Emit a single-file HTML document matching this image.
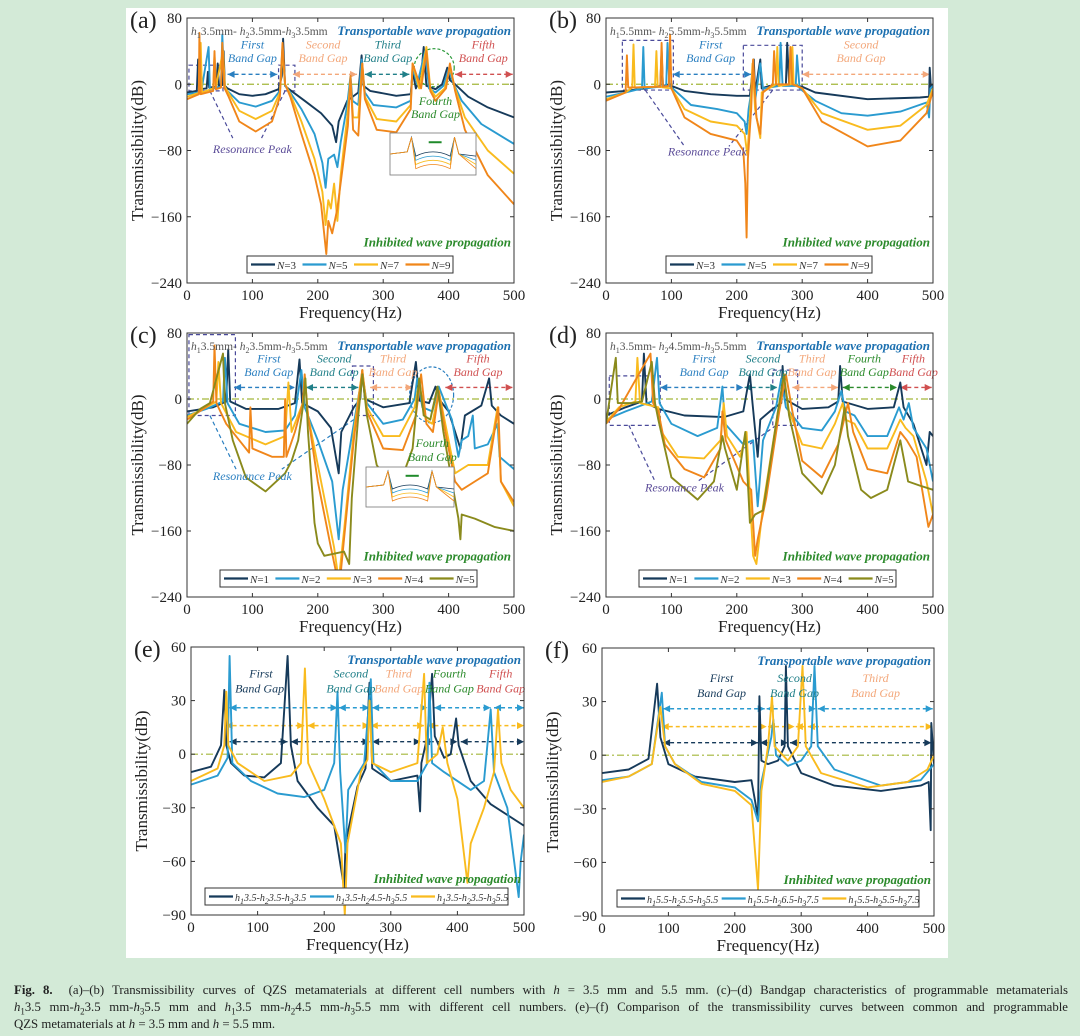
<!DOCTYPE html>
<html><head><meta charset="utf-8">
<style>
html,body{margin:0;padding:0;}
body{width:1080px;height:1036px;background:#d3ead7;position:relative;overflow:hidden;font-family:"Liberation Serif",serif;}
#fig{position:absolute;left:126px;top:8px;width:822px;height:950px;background:#fff;}
svg{position:absolute;left:0;top:0;}
.cap{position:absolute;left:14px;width:1054px;font-size:12.8px;color:#222;line-height:17px;}
.cap div{text-align:justify;text-align-last:justify;white-space:nowrap;}
.cap div.last{text-align-last:left;}
.cap sub{line-height:0;font-size:9px;}
</style></head>
<body>
<div id="fig"></div>
<svg id="chart" width="1080" height="960"></svg>
<div class="cap" style="top:982px">
<div><b>Fig. 8.</b> &nbsp;(a)–(b) Transmissibility curves of QZS metamaterials at different cell numbers with <i>h</i> = 3.5 mm and 5.5 mm. (c)–(d) Bandgap characteristics of programmable metamaterials</div>
<div><i>h</i><sub>1</sub>3.5 mm-<i>h</i><sub>2</sub>3.5 mm-<i>h</i><sub>3</sub>5.5 mm and <i>h</i><sub>1</sub>3.5 mm-<i>h</i><sub>2</sub>4.5 mm-<i>h</i><sub>3</sub>5.5 mm with different cell numbers. (e)–(f) Comparison of the transmissibility curves between common and programmable</div>
<div class="last">QZS metamaterials at <i>h</i> = 3.5 mm and <i>h</i> = 5.5 mm.</div>
</div>
<script>
// ---- data (frequency Hz, dB) ----
const xTicks=[0,100,200,300,400,500];
const yTicksAD=[80,0,-80,-160,-240];
const yTicksEF=[60,30,0,-30,-60,-90];
const a3=[[0,-10],[15,-8],[17,30],[19,-6],[30,-5],[32,15],[34,-4],[45,-3],[47,25],[49,-2],[54,-1],[56,40],[58,-2],[62,-5],[80,-12],[100,-14],[120,-12],[140,-6],[145,10],[147,55],[150,-2],[156,-6],[180,-20],[205,-35],[222,-50],[228,-70],[232,-45],[245,-20],[262,-10],[267,35],[270,-2],[280,-8],[320,-14],[342,-12],[345,15],[350,-5],[358,10],[362,45],[366,-2],[380,-6],[390,0],[398,20],[402,5],[410,0],[430,-15],[460,-28],[500,-40]];
const a5=[[0,-12],[18,-10],[20,35],[22,-8],[33,45],[35,-6],[52,-3],[54,60],[57,-2],[62,-8],[80,-22],[105,-27],[130,-20],[142,-8],[146,45],[150,-2],[158,-10],[175,-30],[195,-60],[207,-95],[212,-125],[216,-90],[225,-85],[230,-100],[235,-70],[245,-25],[250,10],[253,-20],[262,-25],[267,30],[272,-10],[285,-25],[320,-28],[342,-20],[345,20],[352,0],[364,40],[370,-5],[380,-10],[392,-2],[400,18],[408,0],[420,-20],[450,-48],[500,-72]];
const a7=[[0,-15],[20,-10],[21,50],[23,-10],[40,-5],[42,35],[44,-4],[55,40],[58,-3],[63,-10],[80,-32],[105,-42],[130,-32],[142,-10],[146,40],[150,0],[158,-12],[175,-45],[195,-90],[207,-130],[212,-170],[216,-140],[220,-150],[225,-120],[230,-165],[235,-110],[245,-40],[250,5],[254,-40],[262,-40],[268,25],[272,-15],[290,-42],[320,-45],[342,-25],[345,25],[355,-5],[366,45],[372,-5],[380,-15],[394,-5],[402,20],[410,-5],[425,-40],[460,-80],[500,-108]];
const a9=[[0,-18],[18,-12],[19,62],[21,-12],[40,-8],[42,40],[44,-6],[52,-4],[54,50],[57,-4],[63,-14],[80,-45],[105,-57],[130,-45],[142,-15],[146,50],[150,0],[158,-15],[175,-60],[195,-110],[205,-145],[211,-190],[213,-205],[216,-165],[222,-180],[230,-150],[238,-100],[246,-50],[250,10],[254,-55],[262,-62],[268,25],[272,-18],[290,-55],[320,-58],[342,-30],[345,25],[358,-5],[366,40],[372,-8],[380,-20],[396,-5],[402,25],[410,-8],[425,-55],[460,-110],[500,-145]];
const b3=[[0,-10],[30,-8],[60,-5],[83,-2],[85,40],[87,-2],[98,0],[100,-2],[120,-8],[160,-12],[200,-14],[220,-14],[226,30],[228,-10],[236,30],[238,-5],[250,-2],[275,0],[277,50],[280,0],[300,-3],[320,-10],[400,-18],[480,-16],[494,-15],[495,20],[497,-5],[500,0]];
const b5=[[0,-15],[30,-10],[55,-5],[57,45],[59,-5],[92,-2],[94,50],[97,-2],[102,-5],[130,-25],[170,-30],[200,-35],[212,-45],[215,-60],[218,-30],[222,-10],[225,28],[228,-20],[236,25],[240,-5],[265,-2],[267,50],[270,-2],[290,-2],[292,35],[296,-5],[320,-20],[360,-35],[400,-38],[450,-33],[490,-22],[494,-40],[496,-5],[500,-2]];
const b7=[[0,-18],[30,-10],[40,-4],[42,48],[44,-4],[75,-3],[77,40],[79,-3],[100,-5],[120,-30],[160,-45],[200,-50],[212,-60],[216,-85],[220,-40],[224,25],[228,-30],[236,-65],[238,-10],[260,0],[262,45],[264,-2],[283,0],[285,45],[287,0],[300,-5],[330,-35],[400,-55],[450,-50],[490,-25],[500,-5]];
const b9=[[0,-20],[30,-10],[32,35],[34,-4],[83,-3],[85,50],[87,-3],[96,-2],[98,60],[100,-5],[120,-40],[160,-60],[200,-68],[210,-80],[213,-120],[215,-185],[217,-90],[222,-30],[225,30],[230,-40],[236,-60],[240,-10],[255,0],[257,40],[260,0],[280,0],[282,45],[285,0],[300,-5],[330,-45],[400,-75],[450,-68],[490,-35],[500,-8]];
const c1=[[0,-15],[40,-10],[60,-3],[63,60],[66,-3],[90,-12],[140,-12],[165,-5],[172,48],[176,-5],[200,-15],[220,-35],[232,-90],[236,-40],[255,-10],[265,0],[268,35],[272,0],[300,-10],[340,-5],[350,45],[355,-2],[370,-5],[380,15],[385,0],[400,-15],[418,-60],[425,-20],[450,-8],[462,25],[466,-8],[480,-20],[500,-30]];
const c2=[[0,-20],[30,-12],[55,-3],[58,50],[62,-5],[80,-30],[120,-40],[150,-38],[165,-20],[175,35],[180,-10],[200,-50],[222,-100],[232,-170],[238,-110],[255,-30],[268,30],[275,-5],[300,-30],[330,-25],[348,0],[352,25],[360,-10],[375,-15],[385,15],[395,-5],[405,-25],[415,-70],[420,-50],[430,-45],[437,-20],[440,-60],[460,-55],[475,-30],[478,-70],[500,-85]];
const c3=[[0,-22],[25,-12],[45,-3],[48,45],[52,-5],[75,-40],[120,-55],[150,-45],[155,20],[160,-40],[177,-5],[180,25],[185,-20],[200,-80],[215,-140],[225,-180],[232,-220],[240,-160],[255,-40],[268,35],[275,-10],[300,-45],[325,-45],[348,-10],[355,20],[365,-25],[375,-30],[385,10],[395,-30],[410,-90],[430,-80],[460,-80],[475,-10],[480,-100],[500,-130]];
const c4=[[0,-25],[25,-12],[40,-3],[42,65],[45,-5],[60,-30],[80,-50],[95,-65],[97,-10],[100,-60],[130,-70],[148,-70],[150,0],[152,-70],[165,-40],[177,-5],[180,30],[185,-20],[200,-100],[220,-180],[228,-210],[234,-220],[240,-170],[255,-50],[268,35],[275,-15],[300,-60],[330,-62],[350,-20],[358,30],[366,-30],[376,-40],[385,10],[395,-40],[410,-100],[420,-110],[440,-100],[460,-90],[476,-10],[480,-100],[500,-125]];
const c5=[[0,-30],[20,-12],[35,-5],[55,55],[58,-5],[70,-50],[90,-95],[120,-112],[150,-90],[160,-75],[170,-50],[178,-5],[181,25],[185,-40],[195,-150],[200,-175],[210,-190],[240,-185],[248,-200],[252,-120],[262,-20],[268,30],[275,-20],[290,-80],[320,-115],[345,-60],[355,25],[362,-20],[372,-25],[383,15],[392,-40],[405,-100],[415,-145],[418,-170],[420,-140],[440,-145],[470,-155],[500,-160]];
const d1=[[0,-20],[30,-10],[55,-3],[58,55],[62,-5],[80,-12],[120,-20],[180,-22],[210,-15],[220,30],[224,-5],[232,-70],[236,-25],[255,-12],[268,-5],[270,40],[273,0],[300,-12],[340,-10],[355,-3],[358,40],[362,-3],[400,-12],[440,-10],[450,20],[455,-10],[470,-30],[490,-80],[495,-40],[500,-45]];
const d2=[[0,-25],[30,-15],[70,-3],[78,50],[82,-5],[100,-30],[140,-45],[170,-35],[178,15],[182,-30],[210,-55],[225,-50],[232,-130],[240,-50],[260,-10],[268,25],[275,-10],[300,-35],[330,-38],[350,-15],[360,10],[366,-15],[380,-20],[400,-45],[430,-45],[448,-10],[455,-25],[463,-5],[470,-35],[490,-60],[500,-100]];
const d3=[[0,-28],[20,-10],[45,-3],[48,50],[52,-5],[80,-10],[85,-40],[110,-70],[150,-72],[175,-50],[180,-5],[185,-45],[205,-70],[215,-40],[220,-120],[225,-190],[230,-200],[240,-130],[262,-20],[272,25],[280,-15],[300,-55],[330,-60],[350,-30],[362,-5],[366,-25],[380,-30],[400,-60],[430,-60],[450,-25],[458,-35],[470,-45],[490,-100],[500,-140]];
const d4=[[0,-30],[20,-12],[68,55],[72,-5],[80,-15],[90,-55],[120,-85],[150,-95],[175,-60],[178,-15],[183,-50],[210,-100],[222,-110],[228,-190],[232,-170],[245,-120],[265,-15],[275,30],[285,-15],[300,-75],[330,-95],[355,-55],[370,-5],[378,-40],[400,-85],[430,-90],[450,-40],[460,-50],[475,-70],[493,-155],[500,-140]];
const d5=[[0,-30],[15,50],[18,-5],[40,-5],[55,-3],[70,45],[75,-5],[80,-25],[100,-95],[140,-122],[165,-100],[178,-45],[182,-60],[200,-110],[213,-40],[220,-150],[228,-140],[240,-135],[262,-20],[272,30],[280,-20],[300,-90],[330,-115],[350,-80],[365,-10],[370,-45],[390,-110],[405,-120],[430,-110],[450,-50],[462,-100],[480,-105],[500,-110]];
const e1=[[0,-10],[30,-7],[45,5],[50,36],[53,5],[60,-5],[80,-12],[110,-13],[135,-5],[145,55],[150,5],[160,-15],[190,-30],[215,-40],[230,-75],[232,-50],[250,-18],[262,-8],[268,40],[272,-8],[300,-15],[340,-12],[344,-32],[346,-5],[355,10],[362,45],[366,10],[380,-2],[390,0],[398,20],[402,5],[420,-15],[450,-28],[500,-40]];
const e2=[[0,-17],[40,-12],[55,-2],[58,55],[62,-5],[90,-15],[130,-22],[170,-24],[200,-20],[215,-5],[220,35],[224,-10],[232,-55],[236,-20],[260,-5],[270,42],[274,-5],[300,-15],[340,-15],[355,-5],[358,40],[362,-5],[380,-10],[420,-20],[440,-15],[450,25],[455,-10],[475,-30],[492,-80],[495,-60],[500,-45]];
const e3=[[0,-15],[40,-8],[50,5],[53,35],[56,5],[70,-5],[110,-15],[150,-12],[165,-5],[171,48],[176,-5],[200,-25],[225,-50],[231,-90],[235,-50],[255,-10],[265,-3],[268,30],[272,-5],[300,-10],[340,-5],[350,45],[354,-5],[370,0],[378,15],[385,-5],[400,-25],[415,-72],[420,-50],[440,-30],[455,-10],[461,25],[466,-5],[480,-20],[500,-30]];
const f1=[[0,-10],[40,-8],[70,-2],[83,40],[88,10],[100,-5],[140,-12],[200,-15],[225,-14],[235,-35],[237,33],[240,-3],[250,-5],[265,-3],[275,5],[277,50],[280,5],[300,-10],[350,-17],[420,-20],[480,-17],[492,-15],[495,-42],[496,18],[500,-5]];
const f2=[[0,-14],[40,-12],[75,-5],[90,35],[95,5],[110,-5],[150,-15],[200,-18],[225,-25],[235,-37],[240,-15],[255,10],[258,20],[262,0],[280,-6],[300,-3],[315,5],[320,50],[325,5],[350,-8],[420,-17],[480,-14],[500,-5]];
const f3=[[0,-15],[40,-12],[75,-5],[88,27],[95,5],[110,-5],[150,-16],[200,-20],[225,-28],[235,-75],[240,-20],[250,5],[256,33],[260,5],[280,-3],[295,5],[302,50],[307,5],[330,-10],[400,-18],[460,-15],[490,-8],[500,0]];

const NAVY='#163a5a',BLUE='#2a9bd0',YEL='#f9bb1e',ORG='#f0861a',OLV='#8a8a1c';
const NS='http://www.w3.org/2000/svg';
const svg=document.getElementById('chart');
function el(tag,attrs,parent,txt){const e=document.createElementNS(NS,tag);for(const k in attrs)e.setAttribute(k,attrs[k]);if(txt!==undefined)e.textContent=txt;(parent||svg).appendChild(e);return e;}

function panel(P){
  const g=el('g',{});
  
  
  const sx=f=>P.x0+(f-0)/500*(P.x1-P.x0);
  const sy=v=>P.y1-(v-P.ymin)/(P.ymax-P.ymin)*(P.y1-P.y0);
  P.sx=sx;P.sy=sy;
  const clip=el('clipPath',{id:'clip'+P.id},g);
  el('rect',{x:P.x0,y:P.y0,width:P.x1-P.x0,height:P.y1-P.y0},clip);
  const z=el('line',{x1:P.x0,x2:P.x1,y1:sy(0),y2:sy(0),stroke:'#a3b63a','stroke-width':1.2,'stroke-dasharray':'7,3,2,3'},g);
  
  
  (P.pre||[]).forEach(fn=>fn(g,P));
  const cg=el('g',{'clip-path':'url(#clip'+P.id+')'},g);
  P.series.forEach((s,i)=>{
    const pts=s.data.map(d=>sx(d[0]).toFixed(1)+','+sy(d[1]).toFixed(1)).join(' ');
    const pl=el('polyline',{points:pts,fill:'none',stroke:s.color,'stroke-width':1.9,'stroke-linejoin':'round'},cg);
    
    
  });
  (P.post||[]).forEach(fn=>fn(g,P));
  const fr=el('rect',{x:P.x0,y:P.y0,width:P.x1-P.x0,height:P.y1-P.y0,fill:'none',stroke:'#333','stroke-width':1},g);
  
  
  xTicks.forEach(t=>{
    el('line',{x1:sx(t),x2:sx(t),y1:P.y1,y2:P.y1-4,stroke:'#333'},g);
    el('line',{x1:sx(t),x2:sx(t),y1:P.y0,y2:P.y0+4,stroke:'#333'},g);
    const tl=el('text',{x:sx(t),y:P.y1+17,'font-size':15,'text-anchor':'middle',fill:'#222'},g,String(t));
    
    
  });
  P.yt.forEach(t=>{
    el('line',{x1:P.x0,x2:P.x0+4,y1:sy(t),y2:sy(t),stroke:'#333'},g);
    el('line',{x1:P.x1,x2:P.x1-4,y1:sy(t),y2:sy(t),stroke:'#333'},g);
    const tl=el('text',{x:P.x0-5,y:sy(t)+5,'font-size':15,'text-anchor':'end',fill:'#222'},g,String(t).replace('-','\u2212'));
    
    
  });
  const xt=el('text',{x:(P.x0+P.x1)/2,y:P.y1+35,'font-size':17,'text-anchor':'middle',fill:'#222'},g,'Frequency(Hz)');
  
  
  const yx=P.x0-44, yy=(P.y0+P.y1)/2;
  const yt=el('text',{x:yx,y:yy,'font-size':17,'text-anchor':'middle',fill:'#222',transform:'rotate(-90 '+yx+' '+yy+')'},g,'Transmissibility(dB)');
  
  
  const pl=el('text',{x:P.x0-57,y:P.y0+10,'font-size':24,fill:'#222'},g,'('+P.id+')');
  
  
  const L=P.legend;
  const lg=el('g',{},g);
  
  
  el('rect',{x:L.x,y:L.y,width:L.w,height:17,fill:'#fff',stroke:'#333','stroke-width':1},lg);
  const step=L.w/P.series.length;
  P.series.forEach((s,i)=>{
    const bx=L.x+4+i*step;
    const le=el('g',{},lg);
    
    
    el('line',{x1:bx,x2:bx+L.ll,y1:L.y+8.5,y2:L.y+8.5,stroke:s.color,'stroke-width':2.2},le);
    const t=el('text',{x:bx+L.ll+2,y:L.y+13,'font-size':L.fs,fill:'#333','font-style':'italic'},le);
    t.innerHTML=s.label;
  });
  return P;
}
function txt(g,x,y,s,color,opt){opt=opt||{};const t=el('text',{x:x,y:y,'font-size':opt.fs||12,fill:color,'font-style':'italic','font-weight':opt.bold?'bold':'normal','text-anchor':opt.anchor||'middle'},g);t.innerHTML=s;return t;}
function arrow(g,P,f1,f2,db,color){const y=P.sy(db);const a=P.sx(f1),b=P.sx(f2);
  const l=el('line',{x1:a,x2:b,y1:y,y2:y,stroke:color,'stroke-width':1.4,'stroke-dasharray':'4,3'},g);
  
  el('polygon',{points:`${a},${y} ${a+7},${y-3.5} ${a+7},${y+3.5}`,fill:color},g);
  el('polygon',{points:`${b},${y} ${b-7},${y-3.5} ${b-7},${y+3.5}`,fill:color},g);}
function common(g,P,hl,inhY){
  txt(g,P.x1-3,P.y0+17,'Transportable wave propagation','#1c70b0',{bold:true,anchor:'end',fs:13,name:'transportable-label'});
  txt(g,P.x1-3,P.sy(inhY),'Inhibited wave propagation','#2b8a2b',{bold:true,anchor:'end',fs:13,name:'inhibited-label'});
  if(hl) txt(g,P.x0+4,P.y0+17,hl,'#555',{anchor:'start',fs:11.5,name:'parameter-label'});
}
const BG='Band Gap';
function nlab(n){return '<tspan font-style="italic">N</tspan><tspan font-style="normal">='+n+'</tspan>';}
function hlab(a,b,c){return `<tspan font-style="italic">h</tspan><tspan font-size="8" dy="3">1</tspan><tspan dy="-3">${a}-</tspan><tspan font-style="italic">h</tspan><tspan font-size="8" dy="3">2</tspan><tspan dy="-3">${b}-</tspan><tspan font-style="italic">h</tspan><tspan font-size="8" dy="3">3</tspan><tspan dy="-3">${c}</tspan>`;}
function hmm(a,b,c){return `<tspan font-style="italic">h</tspan><tspan font-size="8" dy="3" font-style="normal">1</tspan><tspan dy="-3" font-style="normal">${a}mm- </tspan><tspan font-style="italic">h</tspan><tspan font-size="8" dy="3" font-style="normal">2</tspan><tspan dy="-3" font-style="normal">${b}mm-</tspan><tspan font-style="italic">h</tspan><tspan font-size="8" dy="3" font-style="normal">3</tspan><tspan dy="-3" font-style="normal">${c}mm</tspan>`;}
function dbox(g,P,f1,f2,v1,v2,c){const r=el('rect',{x:P.sx(f1),y:P.sy(v2),width:P.sx(f2)-P.sx(f1),height:P.sy(v1)-P.sy(v2),fill:'none',stroke:c||'#4a4a9a','stroke-width':1.2,'stroke-dasharray':'4,3'},g);}
function dline(g,P,f1,v1,f2,v2,c){el('line',{x1:P.sx(f1),y1:P.sy(v1),x2:P.sx(f2),y2:P.sy(v2),stroke:c,'stroke-width':1.2,'stroke-dasharray':'4,3'},g);}
function inset(g,x,y,w,h){const r=el('rect',{x:x,y:y,width:w,height:h,fill:'#fff',stroke:'#777','stroke-width':0.8},g);
  [[NAVY,0.55],[BLUE,0.65],[YEL,0.75],[ORG,0.85]].forEach(([c,d])=>{el('path',{d:`M${x} ${y+h*0.5} L${x+w*0.2} ${y+h*0.45} L${x+w*0.25} ${y+h*0.1} L${x+w*0.3} ${y+h*d} Q${x+w*0.5} ${y+h*(d-0.2)} ${x+w*0.7} ${y+h*d} L${x+w*0.75} ${y+h*0.1} L${x+w*0.8} ${y+h*0.5} L${x+w} ${y+h*d}`,fill:'none',stroke:c,'stroke-width':0.8},g);});
  el('line',{x1:x+w*0.45,x2:x+w*0.6,y1:y+h*0.22,y2:y+h*0.22,stroke:'#1f8a2a','stroke-width':2},g);}

panel({id:'a',x0:187,x1:514,y0:18,y1:283,ymin:-240,ymax:80,yt:yTicksAD,
 series:[{key:'n3',data:a3,color:NAVY,label:nlab(3)},{key:'n5',data:a5,color:BLUE,label:nlab(5)},{key:'n7',data:a7,color:YEL,label:nlab(7)},{key:'n9',data:a9,color:ORG,label:nlab(9)}],
 legend:{x:247,y:256,w:206,ll:24,fs:11},
 pre:[(g,P)=>{dbox(g,P,3,55,-8,23);dbox(g,P,140,165,-8,23);dline(g,P,35,-8,70,-65,'#4a4a9a');dline(g,P,150,-8,114,-65,'#4a4a9a');
   el('ellipse',{cx:P.sx(378),cy:P.sy(20),rx:20,ry:19,fill:'none',stroke:'#2b9a3a','stroke-dasharray':'3,2','stroke-width':1.2},g);
   arrow(g,P,62,138,12,'#2a7fc0');arrow(g,P,162,260,12,'#f3a77a');arrow(g,P,272,340,12,'#207f88');arrow(g,P,410,498,12,'#d05050');}],
 post:[(g,P)=>{common(g,P,hmm('3.5','3.5','3.5'),-196);
   txt(g,P.sx(100),P.sy(43),'First','#2a7fc0');txt(g,P.sx(100),P.sy(27),BG,'#2a7fc0');
   txt(g,P.sx(208),P.sy(43),'Second','#f3a77a');txt(g,P.sx(208),P.sy(27),BG,'#f3a77a');
   txt(g,P.sx(307),P.sy(43),'Third','#207f88');txt(g,P.sx(307),P.sy(27),BG,'#207f88');
   txt(g,P.sx(453),P.sy(43),'Fifth','#d05050');txt(g,P.sx(453),P.sy(27),BG,'#d05050');
   txt(g,P.sx(380),P.sy(-25),'Fourth','#2b8a2b');txt(g,P.sx(380),P.sy(-41),BG,'#2b8a2b');
   txt(g,P.sx(100),P.sy(-83),'Resonance Peak','#5b4c98');inset(g,390,133,86,42);}]});

panel({id:'b',x0:606,x1:933,y0:18,y1:283,ymin:-240,ymax:80,yt:yTicksAD,
 series:[{key:'n3',data:b3,color:NAVY,label:nlab(3)},{key:'n5',data:b5,color:BLUE,label:nlab(5)},{key:'n7',data:b7,color:YEL,label:nlab(7)},{key:'n9',data:b9,color:ORG,label:nlab(9)}],
 legend:{x:666,y:256,w:206,ll:24,fs:11},
 pre:[(g,P)=>{dbox(g,P,25,103,-7,53);dbox(g,P,210,300,-7,47);dline(g,P,60,-7,120,-75,'#4a4a9a');dline(g,P,255,-7,188,-75,'#4a4a9a');
   arrow(g,P,102,222,12,'#2a7fc0');arrow(g,P,300,495,12,'#f3a77a');}],
 post:[(g,P)=>{common(g,P,hmm('5.5','5.5','5.5'),-196);
   txt(g,P.sx(160),P.sy(43),'First','#2a7fc0');txt(g,P.sx(160),P.sy(27),BG,'#2a7fc0');
   txt(g,P.sx(390),P.sy(43),'Second','#f3a77a');txt(g,P.sx(390),P.sy(27),BG,'#f3a77a');
   txt(g,P.sx(155),P.sy(-86),'Resonance Peak','#5b4c98');}]});

panel({id:'c',x0:187,x1:514,y0:333,y1:597,ymin:-240,ymax:80,yt:yTicksAD,
 series:[{key:'n1',data:c1,color:NAVY,label:nlab(1)},{key:'n2',data:c2,color:BLUE,label:nlab(2)},{key:'n3',data:c3,color:YEL,label:nlab(3)},{key:'n4',data:c4,color:ORG,label:nlab(4)},{key:'n5',data:c5,color:OLV,label:nlab(5)}],
 legend:{x:220,y:570,w:257,ll:24,fs:11},
 pre:[(g,P)=>{dbox(g,P,3,74,-20,78);dbox(g,P,253,285,-20,40);dline(g,P,35,-20,75,-85,'#2a7fc0');dline(g,P,255,-25,145,-85,'#2a7fc0');
   el('ellipse',{cx:P.sx(374),cy:P.sy(5),rx:22,ry:28,fill:'none',stroke:'#2a7fc0','stroke-dasharray':'3,2','stroke-width':1.2},g);
   arrow(g,P,72,165,14,'#2a7fc0');arrow(g,P,182,262,14,'#207f88');arrow(g,P,280,345,14,'#f3a77a');arrow(g,P,395,498,14,'#d05050');}],
 post:[(g,P)=>{common(g,P,hmm('3.5','3.5','5.5'),-196);
   txt(g,P.sx(125),P.sy(44),'First','#2a7fc0');txt(g,P.sx(125),P.sy(28),BG,'#2a7fc0');
   txt(g,P.sx(225),P.sy(44),'Second','#207f88');txt(g,P.sx(225),P.sy(28),BG,'#207f88');
   txt(g,P.sx(315),P.sy(44),'Third','#f3a77a');txt(g,P.sx(315),P.sy(28),BG,'#f3a77a');
   txt(g,P.sx(445),P.sy(44),'Fifth','#d05050');txt(g,P.sx(445),P.sy(28),BG,'#d05050');
   txt(g,P.sx(375),P.sy(-58),'Fourth','#2b8a2b');txt(g,P.sx(375),P.sy(-75),BG,'#2b8a2b');
   txt(g,P.sx(100),P.sy(-98),'Resonance Peak','#2a7fc0');inset(g,366,467,88,40);}]});

panel({id:'d',x0:606,x1:933,y0:333,y1:597,ymin:-240,ymax:80,yt:yTicksAD,
 series:[{key:'n1',data:d1,color:NAVY,label:nlab(1)},{key:'n2',data:d2,color:BLUE,label:nlab(2)},{key:'n3',data:d3,color:YEL,label:nlab(3)},{key:'n4',data:d4,color:ORG,label:nlab(4)},{key:'n5',data:d5,color:OLV,label:nlab(5)}],
 legend:{x:639,y:570,w:257,ll:24,fs:11},
 pre:[(g,P)=>{dbox(g,P,5,83,-32,28);dbox(g,P,255,293,-32,35);dline(g,P,35,-32,75,-100,'#4a4a9a');dline(g,P,260,-32,140,-100,'#4a4a9a');
   arrow(g,P,83,210,14,'#2a7fc0');arrow(g,P,212,262,14,'#207f88');arrow(g,P,285,355,14,'#f3a77a');arrow(g,P,362,445,14,'#2b8a2b');arrow(g,P,450,498,14,'#d05050');}],
 post:[(g,P)=>{common(g,P,hmm('3.5','4.5','5.5'),-196);
   txt(g,P.sx(150),P.sy(44),'First','#2a7fc0');txt(g,P.sx(150),P.sy(28),BG,'#2a7fc0');
   txt(g,P.sx(240),P.sy(44),'Second','#207f88');txt(g,P.sx(240),P.sy(28),BG,'#207f88');
   txt(g,P.sx(315),P.sy(44),'Third','#f3a77a');txt(g,P.sx(315),P.sy(28),BG,'#f3a77a');
   txt(g,P.sx(395),P.sy(44),'Fourth','#2b8a2b');txt(g,P.sx(395),P.sy(28),BG,'#2b8a2b');
   txt(g,P.sx(470),P.sy(44),'Fifth','#d05050');txt(g,P.sx(470),P.sy(28),BG,'#d05050');
   txt(g,P.sx(120),P.sy(-112),'Resonance Peak','#5b4c98');}]});

panel({id:'e',x0:191,x1:524,y0:647,y1:915,ymin:-90,ymax:60,yt:yTicksEF,
 series:[{key:'common',data:e1,color:NAVY,label:hlab('3.5','3.5','3.5')},{key:'prog1',data:e2,color:BLUE,label:hlab('3.5','4.5','5.5')},{key:'prog2',data:e3,color:YEL,label:hlab('3.5','3.5','5.5')}],
 legend:{x:205,y:888,w:303,ll:24,fs:10},
 pre:[(g,P)=>{arrow(g,P,58,220,26,BLUE);arrow(g,P,222,268,26,BLUE);arrow(g,P,272,355,26,BLUE);arrow(g,P,365,450,26,BLUE);arrow(g,P,455,500,26,BLUE);
   arrow(g,P,52,170,16,YEL);arrow(g,P,175,268,16,YEL);arrow(g,P,270,350,16,YEL);arrow(g,P,355,500,16,YEL);
   arrow(g,P,58,145,7,NAVY);arrow(g,P,150,268,7,NAVY);arrow(g,P,272,345,7,NAVY);arrow(g,P,348,400,7,NAVY);arrow(g,P,405,500,7,NAVY);}],
 post:[(g,P)=>{common(g,P,'',-72);
   txt(g,P.sx(105),P.sy(43),'First',NAVY);txt(g,P.sx(103),P.sy(34.5),BG,NAVY);
   txt(g,P.sx(240),P.sy(43),'Second','#207f88');txt(g,P.sx(240),P.sy(34.5),BG,'#207f88');
   txt(g,P.sx(312),P.sy(43),'Third','#f3a77a');txt(g,P.sx(312),P.sy(34.5),BG,'#f3a77a');
   txt(g,P.sx(388),P.sy(43),'Fourth','#2b8a2b');txt(g,P.sx(388),P.sy(34.5),BG,'#2b8a2b');
   txt(g,P.sx(465),P.sy(43),'Fifth','#d05050');txt(g,P.sx(465),P.sy(34.5),BG,'#d05050');}]});

panel({id:'f',x0:602,x1:934,y0:648,y1:916,ymin:-90,ymax:60,yt:yTicksEF,
 series:[{key:'common',data:f1,color:NAVY,label:hlab('5.5','5.5','5.5')},{key:'prog1',data:f2,color:BLUE,label:hlab('5.5','6.5','7.5')},{key:'prog2',data:f3,color:YEL,label:hlab('5.5','5.5','7.5')}],
 legend:{x:617,y:890,w:302,ll:24,fs:10},
 pre:[(g,P)=>{arrow(g,P,92,245,26,BLUE);arrow(g,P,248,322,26,BLUE);arrow(g,P,325,498,26,BLUE);
   arrow(g,P,90,248,16,YEL);arrow(g,P,250,290,16,YEL);arrow(g,P,292,305,16,YEL);arrow(g,P,310,498,16,YEL);
   arrow(g,P,92,235,7,NAVY);arrow(g,P,238,280,7,NAVY);arrow(g,P,283,496,7,NAVY);}],
 post:[(g,P)=>{common(g,P,'',-72);
   txt(g,P.sx(180),P.sy(41),'First',NAVY);txt(g,P.sx(180),P.sy(32.5),BG,NAVY);
   txt(g,P.sx(290),P.sy(41),'Second','#207f88');txt(g,P.sx(290),P.sy(32.5),BG,'#207f88');
   txt(g,P.sx(412),P.sy(41),'Third','#f3a77a');txt(g,P.sx(412),P.sy(32.5),BG,'#f3a77a');}]});
</script>
</body></html>
